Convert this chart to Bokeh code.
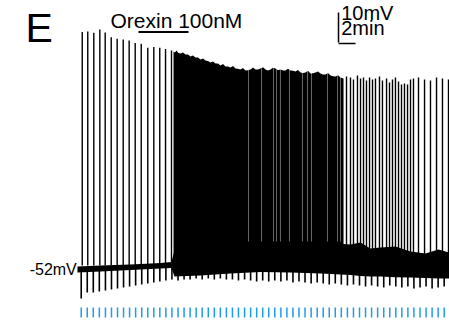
from bokeh.plotting import figure
from bokeh.models import Range1d
from bokeh.core.properties import value
from bokeh.embed import file_html
from bokeh.resources import INLINE

# ---- data (time in min, membrane potential in mV) ----
pulse_t = [0.32, 1.03, 1.74, 2.45, 3.17, 3.88, 4.59, 5.30, 6.01, 6.72, 7.44, 8.15,
           8.86, 9.57, 10.28, 10.99, 11.71, 12.42, 13.13, 13.84, 14.55, 15.27, 15.98,
           16.69, 17.40, 18.11, 18.82, 19.54, 20.25, 20.96, 21.67, 22.38, 23.09, 23.81,
           24.52, 25.23, 25.94, 26.65, 27.37, 28.08, 28.79, 29.50, 30.21, 30.92, 31.64,
           32.35, 33.06, 33.77, 34.48, 35.19, 35.91, 36.62, 37.33, 38.04, 38.75, 39.46,
           40.18, 40.89, 41.60, 42.31, 43.02, 43.73]
pulse_min = [-62.0, -60.0, -60.0, -59.7, -59.3, -59.0, -58.7, -58.3, -58.0, -57.7, -57.3,
             -57.0, -56.7, -56.3, -56.0, -55.7,
             -56.0, -55.7, -55.7, -55.3, -55.7, -55.3, -55.7, -55.3, -55.7,
             -55.7, -56.0, -55.7, -56.0, -56.3, -56.0, -56.3, -56.0, -56.3, -56.0, -56.7,
             -56.3, -56.7, -57.0, -56.7, -57.0, -57.3, -57.0, -57.3, -57.7, -57.3,
             -57.7, -58.0, -57.7, -58.0, -58.3, -57.7, -58.0, -58.3, -58.0, -58.7, -58.3,
             -58.0, -58.7, -58.3, -58.0, -58.3]

early_spike_t = [0.44, 1.09, 1.80, 2.51, 3.14, 3.85, 4.55, 5.26, 5.96, 6.67, 7.38, 8.15,
                 8.86, 9.56, 10.24, 10.94]
early_spike_v = [26.8, 27.0, 26.6, 27.7, 26.7, 25.1, 24.6, 24.3, 24.0, 23.2, 22.9, 21.6,
                 21.8, 21.6, 21.2, 20.7]

dense_t = [11.18, 11.35, 11.53, 11.76, 12.00, 12.30, 12.59, 12.88, 13.18, 13.47, 13.76,
           14.06, 14.35, 14.65, 14.94, 15.24, 15.53, 15.82, 16.12, 16.41, 16.71, 17.00,
           17.29, 17.59, 17.88, 18.18, 18.47, 18.76, 19.06, 19.35, 19.65, 19.94, 20.24,
           20.53, 20.82, 21.12, 21.41, 21.71, 22.00, 22.29, 22.59, 22.88, 23.18, 23.47,
           23.76, 24.06, 24.35, 24.65, 24.94, 25.24, 25.53, 25.82, 26.12, 26.41, 26.71,
           27.00, 27.29, 27.59, 27.88, 28.18, 28.47, 28.76, 29.06, 29.35, 29.65, 29.94,
           30.24, 30.53, 30.82, 31.18]
dense_top = [20.3, 20.0, 20.7, 19.8, 19.7, 20.0, 19.3, 19.3, 18.7, 19.0, 18.3, 18.3,
             17.7, 18.0, 17.3, 17.2, 16.7, 17.0, 16.3, 16.3, 15.7, 16.2, 15.3, 15.3,
             15.0, 15.5, 14.7, 14.6, 14.3, 14.8, 14.0, 14.1, 14.3, 15.0, 14.3, 14.3,
             14.7, 15.1, 14.3, 14.0, 14.3, 14.9, 14.7, 14.1, 14.3, 14.0, 14.0, 14.6,
             14.0, 13.9, 13.7, 14.2, 13.3, 13.2, 13.3, 13.9, 13.0, 13.1, 13.3, 13.7,
             13.0, 12.7, 12.7, 13.2, 12.3, 12.1, 12.0, 12.4, 11.7, 11.3]

gap_t = [20.0, 21.53, 22.94, 23.29, 23.76, 24.82, 26.35, 26.94, 27.41, 29.29, 30.47, 30.82]

late_spike_t = [31.53, 32.0, 32.35, 32.82, 33.18, 33.53, 33.88, 34.24, 34.59, 34.94, 35.41,
                35.76, 36.24, 36.59, 36.94, 37.29, 37.65, 38.0, 38.35, 38.71, 39.06, 39.41,
                40.0, 40.71, 41.41, 42.12, 42.82, 43.53]
late_spike_v = [12.0, 11.7, 11.0, 12.3, 11.3, 11.7, 10.7, 11.7, 11.0, 11.3, 12.0, 10.7,
                11.3, 10.0, 11.0, 11.7, 10.3, 9.3, 9.7, 9.3, 11.0, 11.3, 11.7, 11.0, 10.7,
                11.7, 11.3, 11.0]

band_t = [-0.12, 2.59, 6.12, 9.65, 10.94, 11.29, 14.35, 17.88, 21.41, 24.94, 28.47, 32.0,
          33.18, 34.35, 35.53, 37.3, 39.06, 40.82, 42.35, 43.65, 44.0]
band_top = [-51.3, -51.0, -50.7, -50.2, -49.8, -46.0, -44.3, -43.7, -43.3, -43.0, -43.3,
            -44.0, -43.3, -45.3, -45.0, -44.7, -46.3, -47.0, -45.7, -46.7, -46.7]
band_bot = [-53.3, -53.0, -52.5, -52.0, -51.8, -54.7, -54.3, -53.7, -53.2, -53.3, -53.7,
            -54.2, -54.5, -54.7, -54.7, -54.9, -55.0, -55.2, -55.3, -55.3, -55.3]

orexin_on, orexin_off = 7.06, 12.94
resting_label = "-52mV"

# ---- figure ----
p = figure(width=449, height=320, output_backend="svg", toolbar_location=None,
           x_range=Range1d(-9.176, 43.647), y_range=Range1d(-69.333, 37.333),
           min_border=0)
p.axis.visible = False
p.grid.visible = False
p.outline_line_color = None
p.background_fill_color = "white"
p.border_fill_color = "white"

# baseline noise band
p.varea(x=band_t, y1=band_bot, y2=band_top, fill_color="black")
# dense firing
p.varea(x=dense_t, y1=[-50.0] * len(dense_t), y2=dense_top, fill_color="black")
# thin inter-spike gaps in the dense region
p.segment(x0=gap_t, y0=[-43.0] * len(gap_t), x1=gap_t,
          y1=[15.0] * len(gap_t), line_color="white", line_width=0.9, line_alpha=0.45)
# early and late spikes
p.segment(x0=early_spike_t, y0=[-51.0] * len(early_spike_t), x1=early_spike_t,
          y1=early_spike_v, line_color="black", line_width=1.4)
p.segment(x0=late_spike_t, y0=[-50.0] * len(late_spike_t), x1=late_spike_t,
          y1=late_spike_v, line_color="black", line_width=1.4)
# pulse deflections
p.segment(x0=pulse_t, y0=[-51.5] * len(pulse_t), x1=pulse_t, y1=pulse_min,
          line_color="black", line_width=1.6)
# stimulus markers
p.segment(x0=pulse_t, y0=[-65.0] * len(pulse_t), x1=pulse_t,
          y1=[-68.3] * len(pulse_t), line_color="#1e9bf0", line_width=1.5)

# orexin bar and labels
p.segment(x0=[orexin_on], y0=[26.8], x1=[orexin_off], y1=[26.8],
          line_color="black", line_width=2)
font = value("Liberation Sans")
p.text(x=[3.76], y=[30.8], text=["Orexin 100nM"], text_font=font,
       text_font_size=value("21px"), text_baseline="middle", text_color="black")
p.text(x=[-6.24], y=[28.2], text=["E"], text_font=font,
       text_font_size=value("41px"), text_baseline="middle", text_color="black")
p.text(x=[-0.2], y=[-52.3], text=[resting_label], text_font=font,
       text_font_size=value("16px"), text_baseline="middle", text_align="right",
       text_color="black")

# scale bar: 10 mV, 2 min
p.segment(x0=[30.59, 30.59], y0=[33.3, 23.0], x1=[30.59, 32.59], y1=[23.3, 23.0],
          line_color="black", line_width=1.5)
p.text(x=[30.9], y=[33.2], text=["10mV"], text_font=font,
       text_font_size=value("20px"), text_baseline="middle", text_color="black")
p.text(x=[30.9], y=[28.0], text=["2min"], text_font=font,
       text_font_size=value("20px"), text_baseline="middle", text_color="black")

open("out.html", "w").write(file_html(p, INLINE))
